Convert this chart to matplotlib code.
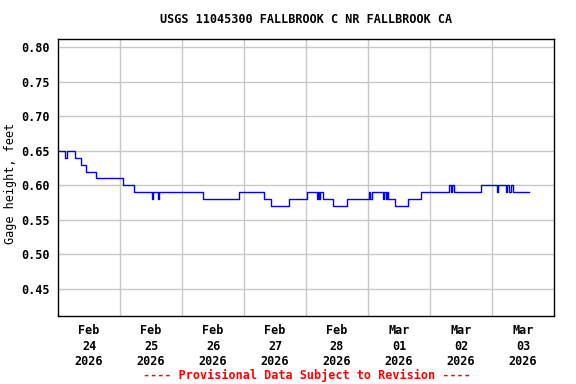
import matplotlib
matplotlib.use("Agg")
import matplotlib.pyplot as plt
import pandas as pd

# Gage height breakpoints (hours since 2026-02-24 00:00, feet), drawn as steps
hours = [0.0, 2.6, 3.4, 6.5, 8.8, 10.7, 14.6, 25.0, 29.3, 36.3, 36.7, 38.6, 39.0,
         56.2, 70.0, 79.6, 82.3, 89.3, 96.3, 100.1, 100.5, 101.1, 101.5, 102.5,
         106.3, 111.8, 120.3, 120.7, 121.5, 125.7, 126.1, 126.8, 127.2, 127.6,
         130.3, 135.4, 140.4, 151.3, 152.1, 152.5, 153.2, 163.6, 169.8, 170.4,
         173.3, 173.9, 174.7, 175.2, 176.0, 182.2]
gage = [0.65, 0.64, 0.65, 0.64, 0.63, 0.62, 0.61, 0.60, 0.59, 0.58, 0.59, 0.58, 0.59,
        0.58, 0.59, 0.58, 0.57, 0.58, 0.59, 0.58, 0.59, 0.58, 0.59, 0.58,
        0.57, 0.58, 0.59, 0.58, 0.59, 0.58, 0.59, 0.58, 0.59, 0.58,
        0.57, 0.58, 0.59, 0.60, 0.59, 0.60, 0.59, 0.60, 0.59, 0.60,
        0.59, 0.60, 0.59, 0.60, 0.59, 0.59]

start = pd.Timestamp("2026-02-24")
days = pd.date_range(start, periods=9, freq="D")
y_ticks = [0.45, 0.50, 0.55, 0.60, 0.65, 0.70, 0.75, 0.80]

title = "USGS 11045300 FALLBROOK C NR FALLBROOK CA"
ylabel = "Gage height, feet"
note = "---- Provisional Data Subject to Revision ----"


def main():
    plt.rcParams["font.family"] = "DejaVu Sans Mono"
    plt.rcParams["font.weight"] = "bold"
    plt.rcParams["font.size"] = 8.5

    times = start + pd.to_timedelta(hours, unit="h")

    fig = plt.figure(figsize=(5.76, 3.84), dpi=100)
    ax = fig.add_axes([0.1007, 0.177, 0.8611, 0.7203])

    ax.plot(times, gage, drawstyle="steps-post", color="#0000ff", lw=1.0)

    ax.set_xlim(days[0], days[-1])
    ax.set_ylim(0.411, 0.811)
    ax.set_yticks(y_ticks)
    ax.set_yticklabels([f"{v:.2f}" for v in y_ticks])

    ax.set_xticks(days[1:-1])
    ax.set_xticklabels([])
    noons = days[:-1] + pd.Timedelta(hours=12)
    ax.set_xticks(noons, minor=True)
    ax.set_xticklabels([d.strftime("%b\n%d\n%Y") for d in noons], minor=True,
                       linespacing=1.25)

    ax.grid(True, which="major", color="#c8c8c8", lw=1.0)
    ax.tick_params(which="both", length=0)
    ax.tick_params(axis="y", pad=6)
    ax.tick_params(axis="x", which="minor", pad=6)
    for s in ax.spines.values():
        s.set_linewidth(1.0)
        s.set_color("black")

    ax.set_ylabel(ylabel)
    ax.yaxis.set_label_coords(-0.082, 0.48)
    fig.text(0.532, 0.948, title, ha="center", va="center")
    fig.text(0.532, 0.023, note, ha="center", va="center", color="red")

    fig.savefig("out.png", dpi=100)


if __name__ == "__main__":
    main()
